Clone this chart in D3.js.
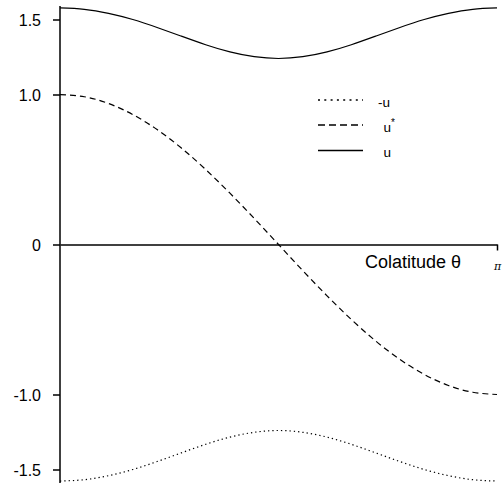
<!DOCTYPE html>
<html><head><meta charset="utf-8">
<script src="https://cdn.jsdelivr.net/npm/d3@7"></script>
<style>body{margin:0;background:#fff}svg{display:block}</style>
</head><body>
<script>
const thetaDeg = [0,10,20,30,40,50,60,70,80,90,100,110,120,130,140,150,160,170,180];
const uVals    = [1.577,1.568,1.541,1.500,1.447,1.389,1.332,1.284,1.252,1.240,1.252,1.284,1.332,1.389,1.447,1.500,1.541,1.568,1.577];
const uStar    = [1.000,0.985,0.940,0.866,0.766,0.643,0.500,0.342,0.174,0.000,-0.174,-0.342,-0.500,-0.643,-0.766,-0.866,-0.940,-0.985,-1.000];
const negU     = [-1.577,-1.568,-1.541,-1.500,-1.447,-1.389,-1.332,-1.284,-1.252,-1.240,-1.252,-1.284,-1.332,-1.389,-1.447,-1.500,-1.541,-1.568,-1.577];
const yTicks = [-1.5,-1.0,0,1.0,1.5];
const yTickLabels = ["-1.5","-1.0","0","1.0","1.5"];
const legendLabels = ["-u","u*","u"];
const xLabel = "Colatitude θ";

const W=503,H=483;
const svg=d3.select("body").append("svg").attr("width",W).attr("height",H);
const x=d3.scaleLinear().domain([0,180]).range([60,497]);
const y=d3.scaleLinear().domain([-1.5,1.5]).range([469.5,19.5]);
const font="'Liberation Sans', Arial, sans-serif";

// y axis
const ya=svg.append("g").attr("transform","translate(60,0)")
  .call(d3.axisLeft(y).tickValues(yTicks).tickSize(7).tickSizeOuter(0)
  .tickFormat((d,i)=>yTickLabels[i]));
ya.select(".domain").remove();
ya.selectAll(".tick line").attr("stroke","#000").attr("stroke-width",1.5);
ya.selectAll(".tick text").attr("x",-19).attr("dy","0.4em").attr("font-family",font).attr("font-size",16).attr("fill","#000");
svg.append("line").attr("x1",60).attr("x2",60).attr("y1",y(1.59)).attr("y2",y(-1.62))
  .attr("stroke","#000").attr("stroke-width",1.5);

// x axis at zero
const xa=svg.append("g").attr("transform",`translate(0,${y(0)})`)
  .call(d3.axisBottom(x).tickValues([180]).tickSize(6).tickSizeOuter(0).tickFormat(()=> "π"));
xa.select(".domain").attr("stroke","#000").attr("stroke-width",1.5);
xa.selectAll(".tick line").attr("stroke","#000").attr("stroke-width",1.5);
xa.selectAll(".tick text").attr("y",18).attr("font-family","'DejaVu Serif', serif").attr("font-style","italic").attr("font-size",11).attr("fill","#000");
svg.append("text").attr("x",365).attr("y",y(0)+23.5).attr("font-family",font).attr("font-size",18).attr("fill","#000").text(xLabel);

const line=d3.line().x((d,i)=>x(thetaDeg[i])).y(d=>y(d)).curve(d3.curveNatural);
const styles=[{data:negU,dash:"1.3,3"},{data:uStar,dash:"6,4"},{data:uVals,dash:null}];
styles.forEach(s=>{
  svg.append("path").datum(s.data).attr("d",line).attr("fill","none").attr("stroke","#000")
    .attr("stroke-width",1.2).attr("stroke-dasharray",s.dash);
});

// legend
const legDash=["2,4.3","7,4",null];
const legY=[100,125,150.5];
legendLabels.forEach((t,i)=>{
  svg.append("line").attr("x1",318).attr("x2",363).attr("y1",legY[i]).attr("y2",legY[i])
    .attr("stroke","#000").attr("stroke-width",1.6).attr("stroke-dasharray",legDash[i]);
  const tx=svg.append("text").attr("x",i===0?378:383.5).attr("y",legY[i]+6.5).attr("font-family",font).attr("font-size",13.5).attr("fill","#000");
  if(i===1){tx.text("u");tx.append("tspan").attr("dy",-6).attr("font-size",10).text("*");}
  else tx.text(t);
});
</script>
</body></html>
